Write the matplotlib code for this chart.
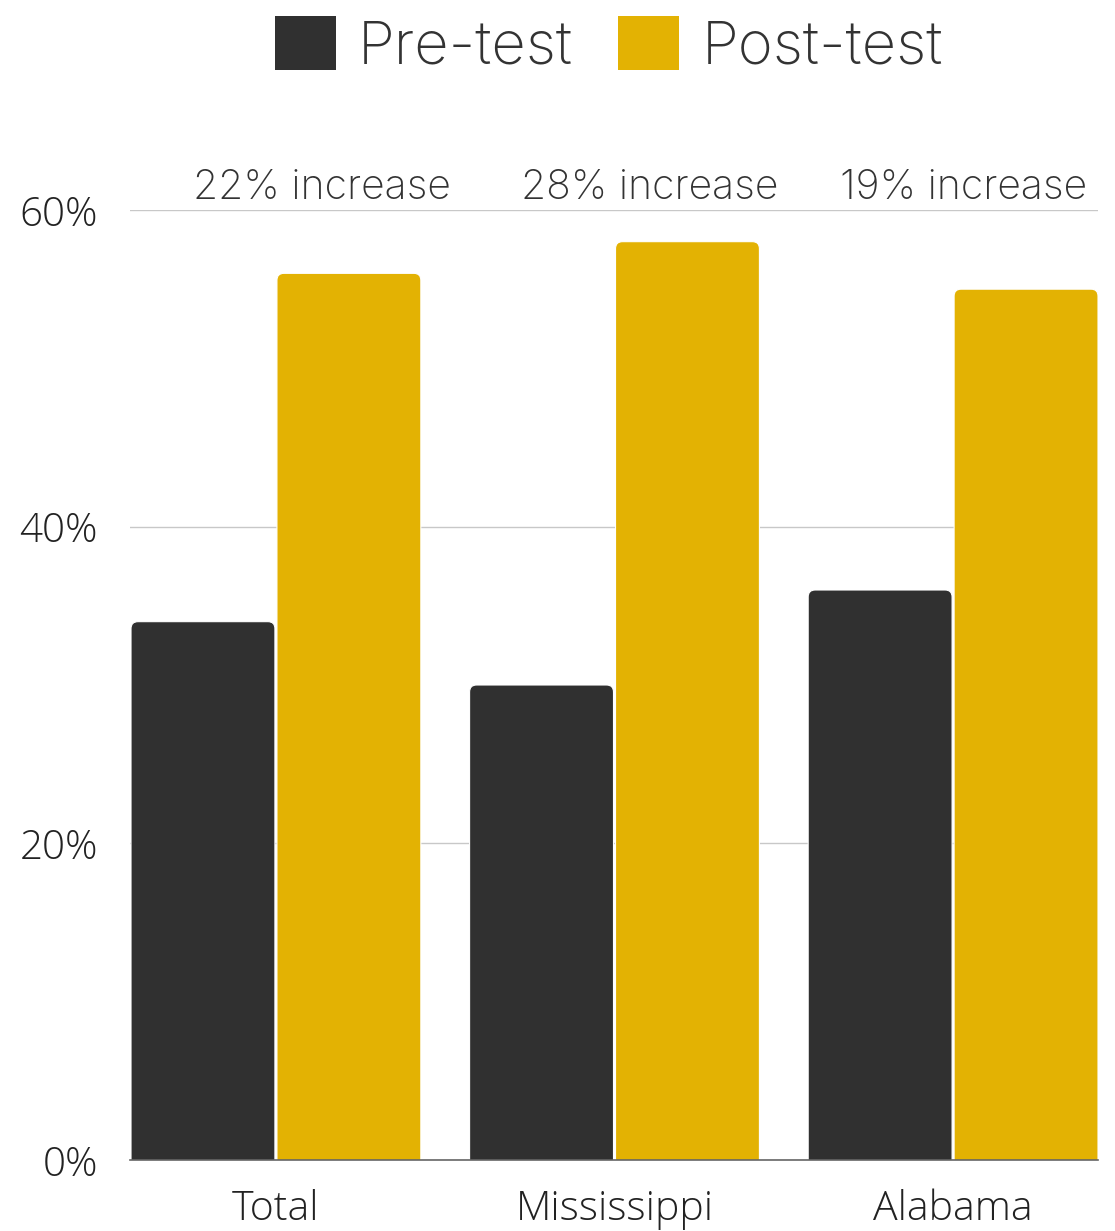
import matplotlib
matplotlib.use("Agg")
import matplotlib.pyplot as plt
from matplotlib.patches import FancyBboxPatch, Patch
import numpy as np

# data
categories = ["Total", "Mississippi", "Alabama"]
pre_test = [34, 30, 36]
post_test = [56, 58, 55]
increase_labels = ["22% increase", "28% increase", "19% increase"]
label_shift = [0.135, 0.105, 0.03]   # horizontal nudge of the annotations

DARK = "#303030"
GOLD = "#E3B203"
TEXT = "#333333"
TICK_FONT = "Open Sans"
TITLE_FONT = "Inter"

fig = plt.figure(figsize=(11.15, 12.31), dpi=100)
ax = fig.add_axes([130 / 1115, 1 - 1160 / 1231, (1098 - 130) / 1115, (1160 - 210) / 1231])

x = np.arange(len(categories))
w = 0.425
off = 0.2155
bars_pre = ax.bar(x - off, pre_test, w, color=DARK, zorder=2)
bars_post = ax.bar(x + off, post_test, w, color=GOLD, zorder=2)

ax.set_xlim(-0.431, 2.428)
ax.set_ylim(0, 60)

# swap plain rectangles for ones with rounded tops
fig.canvas.draw()
px_x = ax.transData.transform((1, 0))[0] - ax.transData.transform((0, 0))[0]
px_y = ax.transData.transform((0, 1))[1] - ax.transData.transform((0, 0))[1]
radius_px = 7
for bars in (bars_pre, bars_post):
    for b in bars:
        b.set_visible(False)
        x0, h, bw = b.get_x(), b.get_height(), b.get_width()
        fb = FancyBboxPatch((x0, -2), bw, h + 2,
                            boxstyle=f"round,pad=0,rounding_size={radius_px / px_x}",
                            mutation_aspect=px_x / px_y,
                            facecolor=b.get_facecolor(), edgecolor="white",
                            linewidth=0.8, zorder=2)
        ax.add_patch(fb)

ax.set_yticks([0, 20, 40, 60])
ax.set_yticklabels(["0%", "20%", "40%", "60%"])
ax.set_xticks(x)
ax.set_xticklabels(categories)
ax.tick_params(axis="y", length=0, pad=23, labelsize=29, labelcolor="#222222")
ax.tick_params(axis="x", length=0, pad=21, labelsize=29.5, labelcolor="#222222")
for lab in ax.get_xticklabels() + ax.get_yticklabels():
    lab.set_fontfamily(TICK_FONT)
    lab.set_fontweight("light")

ax.grid(axis="y", color="#c8c8c8", linewidth=1, zorder=0)
ax.set_axisbelow(True)
for s in ["top", "right", "left"]:
    ax.spines[s].set_visible(False)
ax.spines["bottom"].set_color("#666666")
ax.spines["bottom"].set_linewidth(1.2)
ax.spines["bottom"].set_zorder(3)

for i, txt in enumerate(increase_labels):
    ax.text(x[i] + label_shift[i], 61.4, txt, ha="center", va="center",
            fontsize=29.5, color=TEXT, family=TITLE_FONT, fontweight="light",
            clip_on=False)

handles = [Patch(facecolor=DARK, label="Pre-test"), Patch(facecolor=GOLD, label="Post-test")]
leg = fig.legend(handles=handles, loc="upper center", bbox_to_anchor=(0.546, 1.031),
                 ncol=2, frameon=False, handlelength=1.02, handleheight=1.02,
                 handletextpad=0.38, columnspacing=0.75,
                 prop={"family": TITLE_FONT, "size": 43, "weight": "light"})
for t in leg.get_texts():
    t.set_color(TEXT)

fig.savefig("out.png", dpi=100)
